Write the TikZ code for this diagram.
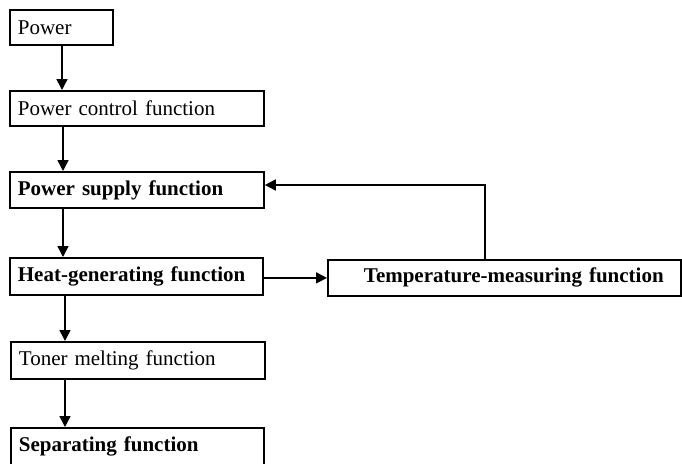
\documentclass[tikz,border=0pt]{standalone}
\usepackage{fontspec}
\setmainfont{Liberation Serif}
\usetikzlibrary{arrows.meta,calc}
\begin{document}
\begin{tikzpicture}[x=1pt,y=-1pt,
  fbox/.style={draw, line width=1.8pt, anchor=north west, inner xsep=8pt, inner ysep=0pt,
    align=left, font=\fontsize{21}{25}\selectfont},
  conn/.style={line width=1.6pt, -{Triangle[length=11pt,width=11pt]}}]
\useasboundingbox (0,0) rectangle (682,463);
\clip (0,0) rectangle (682,463);
\node[fbox, text width=87pt, minimum height=35pt] (pw) at (9,9) {Power};
\node[fbox, text width=238pt, minimum height=35pt] (pc) at (9,90) {Power control function};
\node[fbox, text width=238pt, minimum height=36pt] (ps) at (9,171) {\textbf{Power supply function}};
\node[fbox, text width=237pt, minimum height=37pt] (hg) at (9,257) {\textbf{Heat-generating function}};
\node[fbox, text width=337pt, minimum height=36pt] (tm) at (327,259) {\hspace*{28pt}\textbf{Temperature-measuring function}};
\node[fbox, text width=238pt, minimum height=37pt] (tn) at (10,341) {Toner melting function};
\node[fbox, text width=237pt, minimum height=37pt] (sp) at (10,427) {\textbf{Separating function}};
\draw[conn] ($(pw.south west)+(53,0)$) coordinate (a1) -- (a1 |- pc.north);
\draw[conn] ($(pc.south west)+(54,0)$) coordinate (a2) -- (a2 |- ps.north);
\draw[conn] ($(ps.south west)+(54,0)$) coordinate (a3) -- (a3 |- hg.north);
\draw[conn] ($(hg.south west)+(56,0)$) coordinate (a4) -- (a4 |- tn.north);
\draw[conn] ($(tn.south west)+(55,0)$) coordinate (a5) -- (a5 |- sp.north);
\draw[conn] ($(hg.east)+(0,1.5)$) coordinate (a6) -- (a6 -| tm.west);
\draw[conn] ($(tm.north west)+(158,0)$) coordinate (a7) -- ++(0,-74) coordinate (a8) -- (a8 -| ps.east);
\end{tikzpicture}
\end{document}
